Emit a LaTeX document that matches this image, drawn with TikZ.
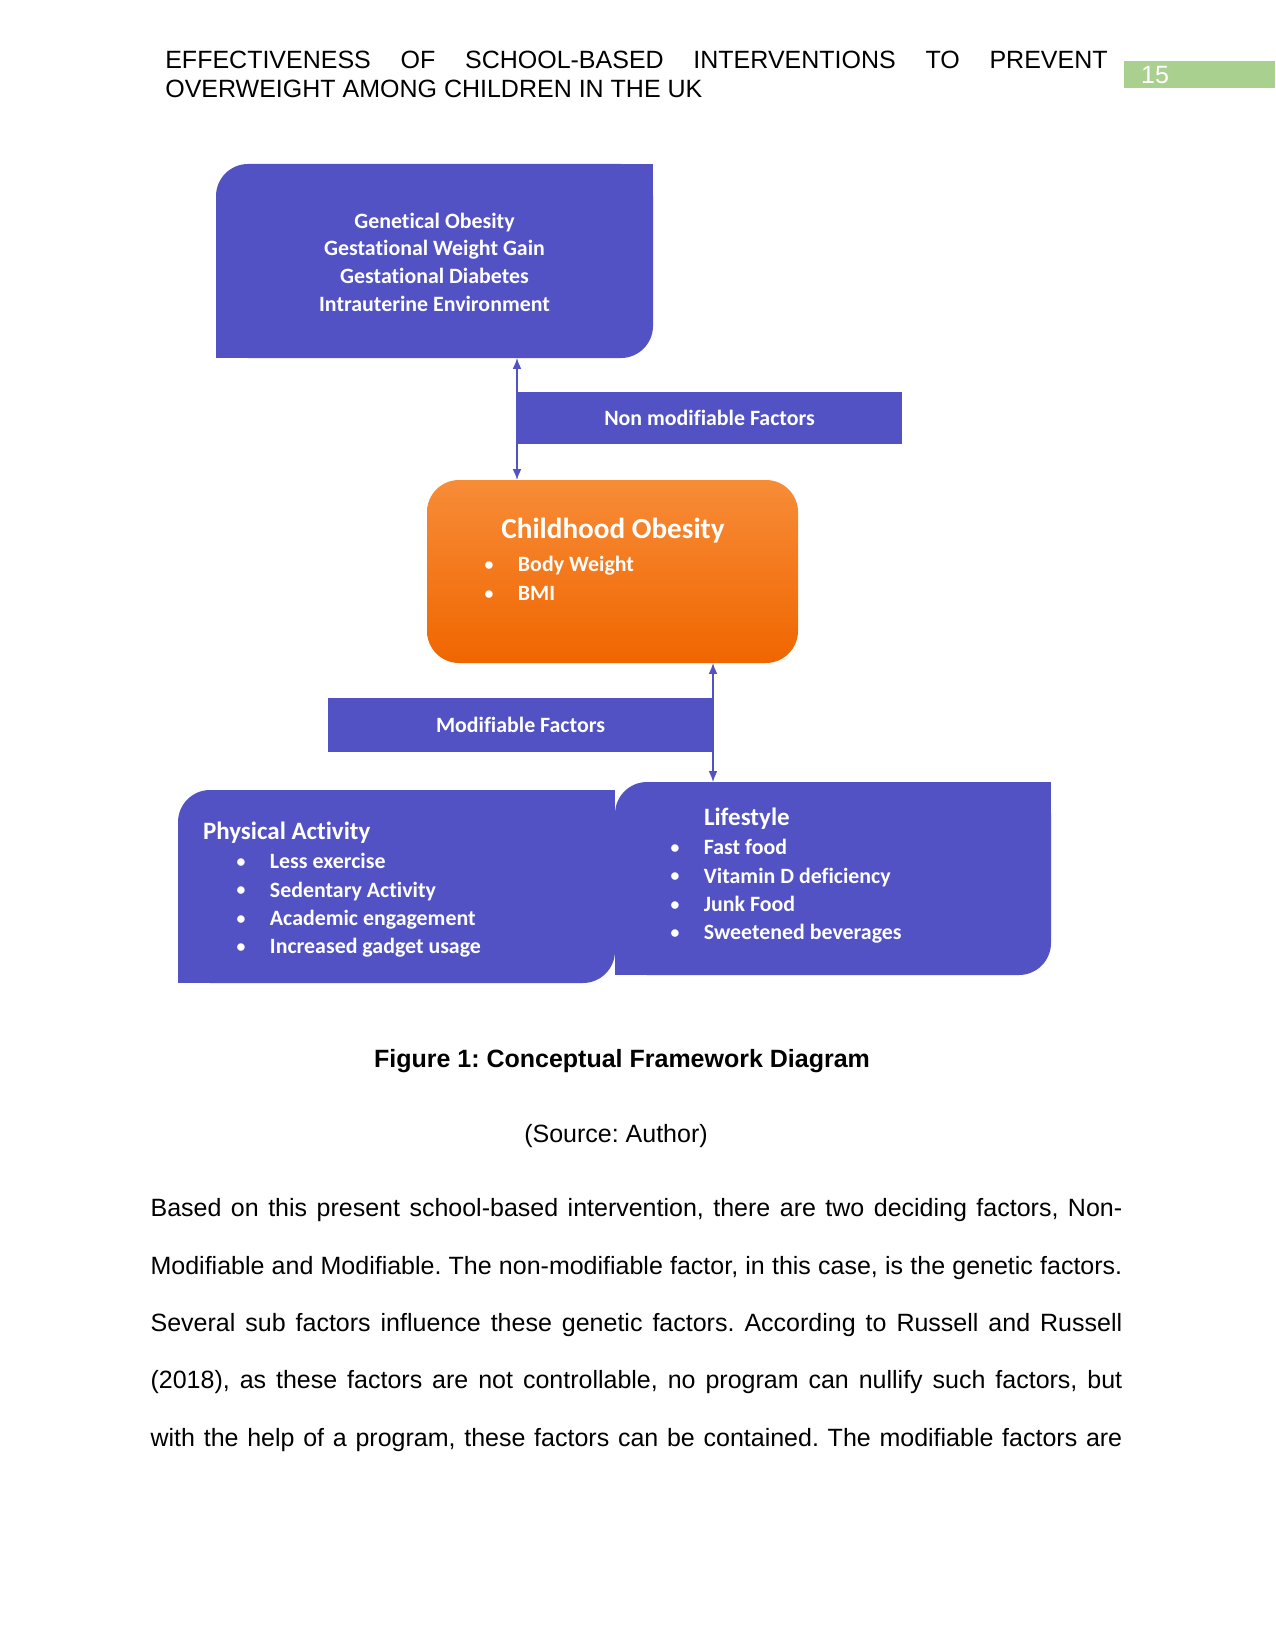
\documentclass[tikz,border=0pt]{standalone}
\usepackage{fontspec}
\setmainfont{Liberation Sans}
\newfontfamily\calfont[Ligatures=NoCommon]{Carlito}
\usetikzlibrary{arrows.meta,fit}
\definecolor{boxblue}{RGB}{82,82,196}
\definecolor{orgtop}{RGB}{247,140,56}
\definecolor{orgbot}{RGB}{240,102,0}
\definecolor{pggreen}{RGB}{169,208,142}
\newcommand\itm[1]{\makebox[6pt][c]{\raisebox{0.6pt}{\fontsize{8.5}{8.5}\selectfont •}}\hspace{10.9pt}#1}
\frenchspacing
\begin{document}
\begin{tikzpicture}[x=0.48pt,y=-0.48pt,
  every node/.style={inner sep=0pt, outer sep=0pt},
  body/.style={font=\fontsize{12}{14.4}\selectfont},
  blk/.style={fill=boxblue, inner sep=0pt},
  rblk/.style={fill=boxblue, inner sep=0pt, rounded corners=15.4pt},
  wsmall/.style={text=white, font=\calfont\bfseries\fontsize{10.5}{13.6}\selectfont},
  wtitle/.style={text=white, font=\calfont\bfseries\fontsize{12}{14}\selectfont},
  arr/.style={draw=boxblue, line width=0.7pt, {Latex[length=5.2pt,width=4.2pt]}-{Latex[length=5.2pt,width=4.2pt]}}
]
\fill[white] (0,0) rectangle (1275,1651);
\useasboundingbox (0,0) rectangle (1275,1651);

% header
\node[body, anchor=base west] (h1) at (165.3,69) {\makebox[452.3pt][s]{EFFECTIVENESS OF SCHOOL-BASED INTERVENTIONS TO PREVENT}};
\node[body, anchor=base west] (h2) at (165.3,98) {OVERWEIGHT AMONG CHILDREN IN THE UK};
\coordinate (g1) at (1124,61); \coordinate (g2) at (1275,88);
\node[fit=(g1)(g2), fill=pggreen] (pg) {};
\node[body, anchor=base, text=white] (pgn) at (1155,84) {15};

% top box
\coordinate (t1) at (216,164); \coordinate (t2) at (653,358);
\node[rblk, fit=(t1)(t2)] (gen) {};
\fill[boxblue] (gen.north east) rectangle ++(-40,40);
\fill[boxblue] (gen.south west) rectangle ++(40,-40);
\node[wsmall, align=center, font=\calfont\bfseries\fontsize{10.5}{13.3}\selectfont] (gent) at ([yshift=-0.5pt]gen.center) {Genetical Obesity\\Gestational Weight Gain\\Gestational Diabetes\\Intrauterine Environment};

% non modifiable
\coordinate (n1) at (517,392); \coordinate (n2) at (902,444);
\node[blk, fit=(n1)(n2)] (nm) {};
\node[wsmall] (nmt) at (nm.center) {Non modifiable Factors};

% orange
\coordinate (o1) at (427,480); \coordinate (o2) at (798,663);
\node[fit=(o1)(o2), rounded corners=15.4pt, top color=orgtop, bottom color=orgbot] (co) {};
\node[text=white, font=\calfont\bfseries\fontsize{14}{16}\selectfont] (cot) at (613,531) {Childhood Obesity};
\node[wsmall, align=left, anchor=west, font=\calfont\bfseries\fontsize{10.5}{13.9}\selectfont] (col) at (482.75,578.5) {\itm{Body Weight}\\\itm{BMI}};

% modifiable
\coordinate (m1) at (328,698); \coordinate (m2) at (713,752);
\node[blk, fit=(m1)(m2)] (mf) {};
\node[wsmall] (mft) at (mf.center) {Modifiable Factors};

% physical activity
\coordinate (p1) at (178,790); \coordinate (p2) at (615,983);
\node[rblk, fit=(p1)(p2)] (pa) {};
\fill[boxblue] (pa.north east) rectangle ++(-40,40);
\fill[boxblue] (pa.south west) rectangle ++(40,-40);
\node[wtitle, anchor=west] (pat) at (203,832.5) {Physical Activity};
\node[wsmall, align=left, anchor=west] (pal) at (234.75,905.5) {\itm{Less exercise}\\\itm{Sedentary Activity}\\\itm{Academic engagement}\\\itm{Increased gadget usage}};

% lifestyle
\coordinate (l1) at (615,782); \coordinate (l2) at (1051,975);
\node[rblk, fit=(l1)(l2)] (ls) {};
\fill[boxblue] (ls.north east) rectangle ++(-40,40);
\fill[boxblue] (ls.south west) rectangle ++(40,-40);
\node[wtitle, anchor=west] (lst) at (704,818.5) {Lifestyle};
\node[wsmall, align=left, anchor=west] (lsl) at (668.75,891.5) {\itm{Fast food}\\\itm{Vitamin D deficiency}\\\itm{Junk Food}\\\itm{Sweetened beverages}};

% arrows
\draw[arr] (gen.south -| nm.west) -- (co.north -| nm.west);
\draw[arr] (co.south -| mf.east) -- (ls.north -| mf.east);

% caption
\node[body, anchor=base, font=\bfseries\fontsize{12}{14.4}\selectfont] (cap) at (622,1067) {Figure 1: Conceptual Framework Diagram};
\node[body, anchor=base] (src) at (616,1142) {(Source: Author)};

% paragraph
\node[body, anchor=base west] (p1) at (150.6,1216.6) {\makebox[466.4pt][s]{Based on this present school-based intervention, there are two deciding factors, Non-}};
\node[body, anchor=base west] (p2) at (150.6,1274.0) {\makebox[466.4pt][s]{Modifiable and Modifiable. The non-modifiable factor, in this case, is the genetic factors.}};
\node[body, anchor=base west] (p3) at (150.6,1331.4) {\makebox[466.4pt][s]{Several sub factors influence these genetic factors. According to Russell and Russell}};
\node[body, anchor=base west] (p4) at (150.6,1388.8) {\makebox[466.4pt][s]{(2018), as these factors are not controllable, no program can nullify such factors, but}};
\node[body, anchor=base west] (p5) at (150.6,1446.2) {\makebox[466.4pt][s]{with the help of a program, these factors can be contained. The modifiable factors are}};
\end{tikzpicture}
\end{document}
